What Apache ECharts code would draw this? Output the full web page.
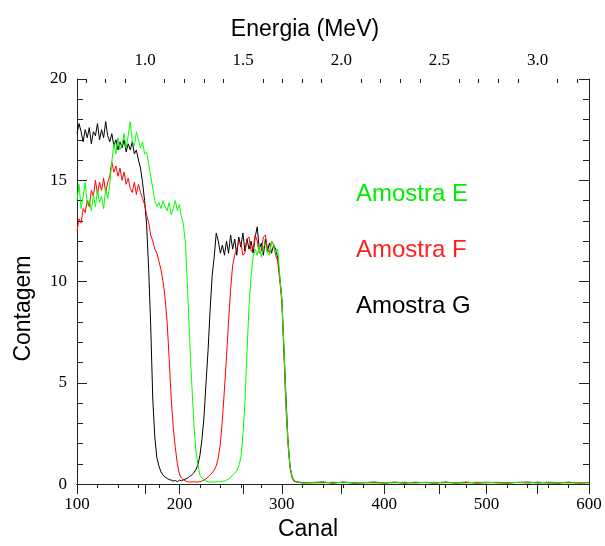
<!DOCTYPE html>
<html>
<head>
<meta charset="utf-8">
<script src="https://cdn.jsdelivr.net/npm/echarts@6/dist/echarts.min.js"></script>
<style>
  html, body { margin: 0; padding: 0; background: #fff; }
  #chart { width: 605px; height: 546px; }
</style>
</head>
<body>
<div id="chart"></div>
<script>
// canais (eixo x inferior)
var canal = [
  100, 102, 104, 106, 108, 110, 112, 114, 116, 118,
  120, 122, 124, 126, 128, 130, 132, 134, 136, 138,
  140, 142, 144, 146, 148, 150, 152, 154, 156, 158,
  160, 162, 164, 166, 168, 170, 172, 174, 176, 178,
  180, 182, 184, 186, 188, 190, 192, 194, 196, 198,
  200, 202, 204, 206, 208, 210, 212, 214, 216, 218,
  220, 222, 224, 226, 228, 230, 232, 234, 236, 238,
  240, 242, 244, 246, 248, 250, 252, 254, 256, 258,
  260, 262, 264, 266, 268, 270, 272, 274, 276, 278,
  280, 282, 284, 286, 288, 290, 292, 294, 296, 298,
  300, 302, 304, 306, 308, 310, 312, 314, 316, 318,
  320,
  330, 340, 350, 360, 370, 380, 390, 400, 410, 420,
  430, 440, 450, 460, 470, 480, 490, 500, 510, 520,
  530, 540, 550, 560, 570, 580, 590, 600
];

var amostraE = [
  14.0, 14.8, 13.6, 14.2, 14.9, 13.8, 14.0, 13.5, 14.3, 13.7,
  14.5, 13.9, 14.2, 13.6, 14.6, 14.1, 14.8, 15.9, 16.8, 16.3,
  17.1, 16.5, 16.8, 17.3, 16.6, 17.2, 17.9, 16.9, 16.7, 17.4,
  17.0, 16.6, 16.9, 16.3, 16.4, 15.8, 15.2, 14.6, 14.0, 13.7,
  13.9, 13.6, 14.0, 13.7, 13.5, 13.9, 13.3, 13.6, 14.0, 13.5,
  13.8, 13.2, 12.8, 11.8, 9.6, 7.2, 5.0, 3.1, 1.7, 1.0,
  0.45, 0.3, 0.2, 0.15, 0.12, 0.1, 0.1, 0.1, 0.1, 0.12,
  0.12, 0.14, 0.15, 0.2, 0.25, 0.32, 0.45, 0.55, 0.65, 0.9,
  1.3, 2.4, 4.0, 6.5, 8.8, 10.3, 11.2, 11.6, 11.3, 11.8,
  11.2, 11.7, 11.9, 11.4, 11.3, 12.0, 11.8, 11.4, 11.6, 10.3,
  9.1, 6.9, 4.1, 2.1, 0.9, 0.4, 0.2, 0.12, 0.1, 0.08,
  0.06,
  0.07, 0.05, 0.1, 0.06, 0.09, 0.08, 0.05, 0.07, 0.06, 0.1,
  0.05, 0.08, 0.09, 0.06, 0.07, 0.05, 0.1, 0.08, 0.06, 0.05,
  0.09, 0.07, 0.06, 0.1, 0.08, 0.05, 0.07, 0.06
];

var amostraF = [
  12.5, 13.1, 12.9, 13.6, 13.4, 14.0, 13.7, 14.5, 14.2, 15.0,
  14.3, 14.9, 14.5, 15.1, 14.4, 14.9, 15.2, 15.9, 15.4, 15.7,
  15.2, 15.6, 15.0, 15.4, 14.8, 15.1, 14.6, 14.4, 14.9, 14.3,
  14.8, 14.4, 14.1, 13.8, 13.3, 12.9, 12.3, 12.0, 11.6, 11.4,
  11.0, 10.6, 10.0, 9.2, 8.0, 6.2, 4.2, 2.8, 1.8, 1.0,
  0.5, 0.3, 0.2, 0.15, 0.12, 0.1, 0.1, 0.12, 0.1, 0.1,
  0.12, 0.15, 0.2, 0.26, 0.35, 0.45, 0.55, 0.7, 0.9, 1.3,
  2.0, 3.2, 4.7, 6.3, 8.0, 9.6, 10.8, 11.3, 11.6, 12.0,
  11.9, 11.3, 11.4, 12.1, 12.2, 11.5, 11.6, 12.3, 12.0, 11.4,
  11.5, 12.2, 12.3, 11.6, 11.4, 12.0, 11.8, 11.3, 11.0, 10.1,
  9.0, 6.5, 3.8, 2.0, 0.8, 0.35, 0.15, 0.1, 0.1, 0.07,
  0.05,
  0.06, 0.09, 0.05, 0.1, 0.07, 0.06, 0.08, 0.05, 0.1, 0.07,
  0.06, 0.09, 0.05, 0.08, 0.07, 0.1, 0.05, 0.06, 0.09, 0.07,
  0.08, 0.05, 0.1, 0.06, 0.07, 0.09, 0.05, 0.07
];

var amostraG = [
  17.3, 17.8, 17.4, 16.9, 17.5, 17.1, 17.6, 16.8, 17.4, 17.2,
  17.8, 17.0, 17.5, 17.1, 17.9, 17.2, 16.9, 17.3, 16.7, 17.0,
  16.5, 16.9, 16.6, 17.0, 16.4, 16.8, 16.5, 16.9, 16.3, 16.5,
  16.0, 15.6, 14.9, 14.0, 12.8, 10.6, 7.8, 4.2, 2.3, 1.3,
  0.9, 0.6, 0.45, 0.35, 0.28, 0.22, 0.2, 0.15, 0.18, 0.12,
  0.2, 0.16, 0.22, 0.25, 0.3, 0.38, 0.45, 0.55, 0.7, 0.95,
  1.4, 2.2, 3.3, 5.0, 6.6, 8.6, 10.3, 11.2, 12.4, 12.0,
  11.4, 11.8, 11.3, 12.0, 11.4, 12.3, 11.6, 12.1, 11.3, 12.2,
  11.7, 12.4, 11.5, 12.1, 11.6, 12.0, 11.4, 12.2, 12.7, 11.6,
  11.9, 11.3, 12.1, 11.5, 11.9, 11.4, 11.8, 11.6, 11.2, 10.2,
  9.2, 6.8, 4.4, 2.2, 0.9, 0.35, 0.15, 0.12, 0.1, 0.09,
  0.08,
  0.08, 0.1, 0.06, 0.09, 0.05, 0.07, 0.1, 0.06, 0.08, 0.05,
  0.09, 0.07, 0.06, 0.1, 0.05, 0.08, 0.06, 0.09, 0.07, 0.05,
  0.08, 0.1, 0.06, 0.07, 0.05, 0.09, 0.06, 0.08
];

// eixo de energia (topo): calibracao canal -> MeV
var energiaRotulos = [1.0, 1.5, 2.0, 2.5, 3.0];
var energiaMenores = [0.7, 0.8, 0.9, 1.1, 1.2, 1.3, 1.4, 1.6, 1.7, 1.8, 1.9,
                      2.1, 2.2, 2.3, 2.4, 2.6, 2.7, 2.8, 2.9, 3.1, 3.2];
var E0 = 0.6536;      // MeV no canal 100
var ganho = 0.005216; // MeV por canal

function energiaParaCanal(e) { return 100 + (e - E0) / ganho; }
function canalParaEnergia(c) { return E0 + (c - 100) * ganho; }

function pares(ys) {
  return canal.map(function (c, i) { return [c, ys[i]]; });
}

var serif = 'Liberation Serif';
var sans = 'Liberation Sans';
var corEixo = '#222';

var myChart = echarts.init(document.getElementById('chart'), null, { renderer: 'canvas' });

var option = {
  animation: false,
  backgroundColor: '#fff',
  grid: { left: 77, right: 16, top: 79, bottom: 57, containLabel: false },
  legend: {
    orient: 'vertical',
    left: 346,
    top: 177,
    itemWidth: 0,
    itemHeight: 24,
    itemGap: 32,
    selectedMode: false,
    textStyle: { fontFamily: sans, fontSize: 24 },
    data: [
      { name: 'Amostra E', icon: 'none', textStyle: { color: '#00ee00' } },
      { name: 'Amostra F', icon: 'none', textStyle: { color: '#ff2020' } },
      { name: 'Amostra G', icon: 'none', textStyle: { color: '#000' } }
    ]
  },
  xAxis: [
    {
      type: 'value', position: 'bottom', min: 100, max: 600, interval: 100,
      name: 'Canal', nameLocation: 'middle', nameGap: 33,
      nameTextStyle: { fontFamily: sans, fontSize: 23, color: '#000', padding: [0, 50, 0, 0] },
      axisLine: { lineStyle: { color: corEixo } },
      axisTick: { length: 10, lineStyle: { color: corEixo } },
      minorTick: { show: true, splitNumber: 5, length: 4, lineStyle: { color: corEixo } },
      splitLine: { show: false },
      axisLabel: { fontFamily: serif, fontSize: 17, color: '#000', margin: 12 }
    },
    {
      type: 'value', position: 'top', min: 100, max: 600,
      name: 'Energia (MeV)', nameLocation: 'middle', nameGap: 38,
      nameTextStyle: { fontFamily: sans, fontSize: 23, color: '#000', padding: [0, 56, 0, 0] },
      axisLine: { lineStyle: { color: corEixo } },
      axisTick: { inside: true, length: 10, lineStyle: { color: corEixo },
                  customValues: energiaRotulos.map(energiaParaCanal) },
      splitLine: { show: false },
      axisLabel: {
        fontFamily: serif, fontSize: 17, color: '#000', margin: 10,
        customValues: energiaRotulos.map(energiaParaCanal),
        formatter: function (v) { return canalParaEnergia(v).toFixed(1); }
      }
    },
    {
      type: 'value', position: 'top', min: 100, max: 600,
      axisLine: { show: false },
      axisTick: { inside: true, length: 4, lineStyle: { color: corEixo },
                  customValues: energiaMenores.map(energiaParaCanal) },
      axisLabel: { show: false },
      splitLine: { show: false }
    }
  ],
  yAxis: [
    {
      type: 'value', position: 'left', min: 0, max: 20, interval: 5,
      name: 'Contagem', nameLocation: 'middle', nameGap: 42,
      nameTextStyle: { fontFamily: sans, fontSize: 23, color: '#000', padding: [0, 54, 0, 0] },
      axisLine: { show: true, lineStyle: { color: corEixo } },
      axisTick: { show: true, inside: true, length: 10, lineStyle: { color: corEixo } },
      minorTick: { show: true, splitNumber: 5, length: 6, lineStyle: { color: corEixo } },
      splitLine: { show: false },
      axisLabel: { fontFamily: serif, fontSize: 17, color: '#000', margin: 10 }
    },
    {
      type: 'value', position: 'right', min: 0, max: 20, interval: 5,
      axisLine: { show: true, lineStyle: { color: corEixo } },
      axisTick: { show: true, inside: true, length: 10, lineStyle: { color: corEixo } },
      minorTick: { show: true, splitNumber: 5, length: 6, lineStyle: { color: corEixo } },
      splitLine: { show: false },
      axisLabel: { show: false }
    }
  ],
  series: [
    {
      name: 'Amostra G', type: 'line', showSymbol: false, data: pares(amostraG),
      lineStyle: { width: 1, color: '#000' }, itemStyle: { color: '#000' }
    },
    {
      name: 'Amostra F', type: 'line', showSymbol: false, data: pares(amostraF),
      lineStyle: { width: 1, color: '#ff0000' }, itemStyle: { color: '#ff0000' }
    },
    {
      name: 'Amostra E', type: 'line', showSymbol: false, data: pares(amostraE),
      lineStyle: { width: 1, color: '#00ff00' }, itemStyle: { color: '#00ff00' }
    }
  ]
};

myChart.setOption(option);
</script>
</body>
</html>
